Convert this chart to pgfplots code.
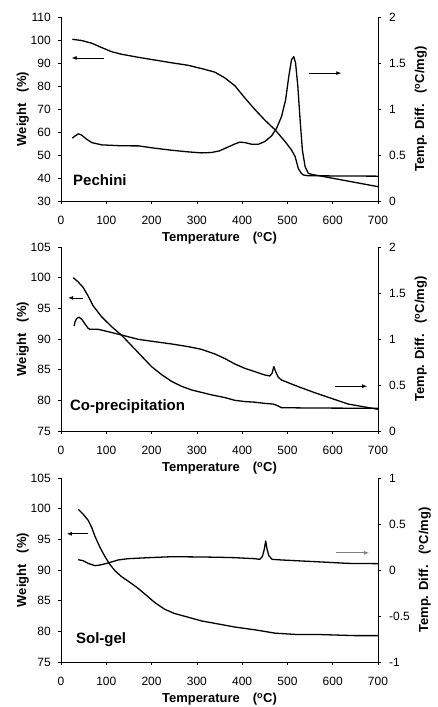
\documentclass[border=0pt]{standalone}
\usepackage{pgfplots}
\pgfplotsset{compat=1.18}
\usepackage{fontspec}
\setmainfont{Liberation Sans}
\usetikzlibrary{arrows.meta}

\tikzset{
  arr/.style={-{Latex[length=5pt,width=4pt]}, line width=0.7pt},
  panel/.style={anchor=base west, inner sep=0pt, font=\fontsize{15}{16}\selectfont\bfseries},
}
\pgfplotsset{
  common/.style={
    width=317pt, height=184pt, scale only axis,
    xmin=0, xmax=700,
    tick align=outside, major tick length=2.7pt,
    tick style={black, line width=0.6pt},
    axis line style={-, line width=0.7pt},
    ticklabel style={font=\fontsize{12}{13}\selectfont},
    /pgf/number format/assume math mode=true,
    label style={font=\fontsize{13}{14}\selectfont\bfseries},
    every axis plot post/.append style={black, line width=1.3pt, mark=none, line join=round},
  },
  tga/.style={common,
    axis x line*=bottom, axis y line*=left,
    xtick={0,100,...,700},
    xticklabel style={yshift=-8.5pt},
    yticklabel style={xshift=-4pt},
    xlabel={Temperature\quad(\textsuperscript{o}C)},
    xlabel style={yshift=-1pt},
    ylabel={Weight\ \ \ (\%)},
    ylabel style={yshift=-5pt},
  },
  dta/.style={common,
    axis x line=none, axis y line*=right,
    yticklabel style={xshift=5pt},
    ylabel={Temp. Diff.\ \ \ (\textsuperscript{o}C/mg)},
    ylabel style={yshift=-2pt},
  },
}

\begin{document}
\begin{tikzpicture}
\useasboundingbox (-61pt,201pt) rectangle (377pt,-506pt);

% ---- Pechini ----
\begin{axis}[tga, at={(0pt,0pt)}, anchor=south west,
  ymin=30, ymax=110, ytick={30,40,...,110}]
\addplot coordinates {(25,100.3)(45,99.8)(68,98.6)(90,96.7)(112,94.9)(134,93.8)(170,92.5)(207,91.3)(244,90.1)(281,89)(318,87.2)(340,86)(362,83.5)(384,80.1)(406,74.8)(428,69.8)(450,65.2)(473,60.9)(495,55.8)(509,52.2)(517,49.3)(524,44.2)(530,42.2)(535,41.3)(545,41)(600,40.9)(700,40.8)};
\draw[arr] (axis cs:95.5,92.2) -- (axis cs:23.6,92.2);
\draw[arr] (axis cs:548,85.6) -- (axis cs:619,85.6);
\node[panel] at (rel axis cs:0.038,0.082) {Pechini};
\end{axis}
\begin{axis}[dta, at={(0pt,0pt)}, anchor=south west,
  ymin=0, ymax=2, ytick={0,0.5,...,2}]
\addplot coordinates {(25,0.683)(31,0.707)(38,0.73)(45,0.718)(52,0.69)(57,0.67)(68,0.635)(90,0.61)(134,0.60)(171,0.599)(207,0.574)(244,0.552)(281,0.534)(310,0.523)(332,0.527)(350,0.545)(362,0.572)(384,0.62)(395,0.64)(406,0.635)(421,0.617)(436,0.617)(450,0.646)(465,0.708)(476,0.79)(487,0.918)(496,1.10)(503,1.353)(509,1.534)(514,1.57)(518,1.5)(523,1.244)(528,0.882)(533,0.555)(539,0.374)(546,0.301)(553,0.29)(700,0.156)};
\end{axis}

% ---- Co-precipitation ----
\begin{axis}[tga, at={(0pt,-230pt)}, anchor=south west,
  ymin=75, ymax=105, ytick={75,80,...,105}]
\addplot coordinates {(27,100)(38,99.3)(49,98.4)(60,97)(71,95.4)(90,93.6)(112,92)(134,90.6)(156,88.9)(178,87.2)(200,85.5)(222,84.2)(244,83.1)(266,82.3)(288,81.7)(310,81.3)(332,80.9)(362,80.45)(384,80)(406,79.8)(428,79.7)(450,79.5)(468,79.4)(476,79.2)(487,78.8)(550,78.75)(700,78.7)};
\draw[arr] (axis cs:49,96.7) -- (axis cs:16,96.7);
\draw[arr] (axis cs:604,82.3) -- (axis cs:676,82.3);
\node[panel] at (rel axis cs:0.028,0.114) {Co-precipitation};
\end{axis}
\begin{axis}[dta, at={(0pt,-230pt)}, anchor=south west,
  ymin=0, ymax=2, ytick={0,0.5,...,2}]
\addplot coordinates {(29,1.141)(31,1.188)(35,1.225)(40,1.236)(46,1.214)(53,1.163)(60,1.116)(64,1.105)(82,1.105)(104,1.08)(134,1.043)(171,0.996)(207,0.971)(244,0.946)(281,0.917)(310,0.888)(340,0.837)(362,0.787)(384,0.728)(406,0.681)(428,0.645)(450,0.609)(461,0.598)(466,0.627)(470,0.70)(474,0.645)(480,0.583)(487,0.554)(524,0.482)(560,0.417)(597,0.355)(634,0.293)(700,0.236)};
\end{axis}

% ---- Sol-gel ----
\begin{axis}[tga, at={(0pt,-461pt)}, anchor=south west,
  ymin=75, ymax=105, ytick={75,80,...,105}]
\addplot coordinates {(38,99.9)(49,99.1)(60,98.1)(68,96.9)(75,95.5)(86,93.7)(97,92.2)(108,90.9)(119,89.9)(134,88.9)(148,88.2)(167,87.2)(185,86.1)(207,84.7)(229,83.6)(251,82.9)(281,82.3)(310,81.7)(340,81.3)(384,80.7)(428,80.25)(473,79.7)(517,79.5)(561,79.5)(605,79.4)(649,79.3)(700,79.3)};
\draw[arr] (axis cs:59,95.9) -- (axis cs:13,95.9);
\draw[arr, gray] (axis cs:608,92.8) -- (axis cs:680,92.8);
\node[panel] at (rel axis cs:0.047,0.10) {Sol-gel};
\end{axis}
\begin{axis}[dta, at={(0pt,-461pt)}, anchor=south west,
  ymin=-1, ymax=1, ytick={-1,-0.5,...,1}]
\addplot coordinates {(38,0.112)(49,0.101)(60,0.072)(75,0.047)(86,0.054)(104,0.076)(126,0.109)(148,0.123)(193,0.134)(237,0.143)(281,0.143)(318,0.141)(361,0.137)(384,0.134)(428,0.123)(439,0.116)(445,0.15)(449,0.228)(452,0.315)(455,0.228)(459,0.156)(466,0.116)(487,0.109)(560,0.091)(634,0.072)(700,0.069)};
\end{axis}
\end{tikzpicture}
\end{document}
